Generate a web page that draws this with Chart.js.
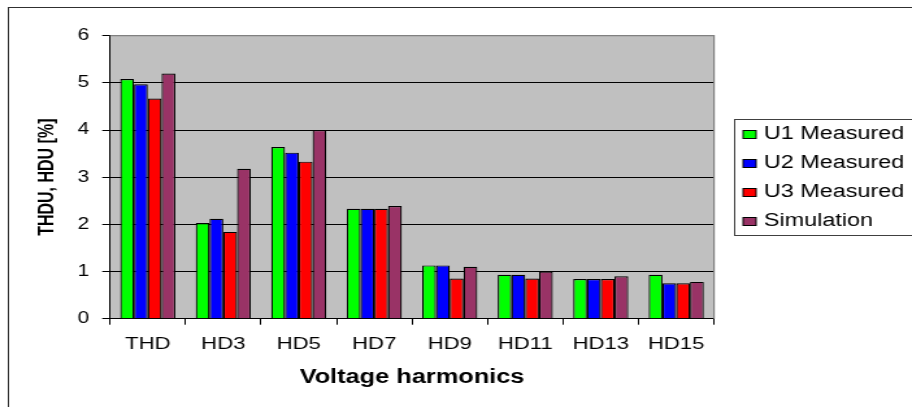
<!DOCTYPE html>
<html>
<head>
<meta charset="utf-8">
<script src="https://cdn.jsdelivr.net/npm/chart.js@4/dist/chart.umd.min.js"></script>
<style>
  html, body { margin: 0; padding: 0; background: #fff; overflow: hidden; }
  /* the chart is laid out narrower and widened horizontally */
  #wrap {
    position: absolute; left: 0; top: 0;
    width: 702px; height: 407px;
    transform: scaleX(1.2991); transform-origin: 0 0;
  }
</style>
</head>
<body>
<div id="wrap"><canvas id="chart"></canvas></div>
<script>
const categories = ['THD', 'HD3', 'HD5', 'HD7', 'HD9', 'HD11', 'HD13', 'HD15'];
const u1Measured = [5.08, 2.03, 3.64, 2.33, 1.13, 0.93, 0.84, 0.93];
const u2Measured = [4.97, 2.12, 3.52, 2.33, 1.13, 0.93, 0.84, 0.75];
const u3Measured = [4.67, 1.84, 3.33, 2.33, 0.85, 0.85, 0.84, 0.75];
const simulation = [5.20, 3.18, 4.00, 2.39, 1.10, 1.00, 0.90, 0.78];
const seriesNames = ['U1 Measured', 'U2 Measured', 'U3 Measured', 'Simulation'];
const seriesColors = ['#00FF00', '#0000FF', '#FF0000', '#993366'];
const yTicks = [0, 1, 2, 3, 4, 5, 6];

const FONT = '"Liberation Sans", Arial, sans-serif';

// grey plot background plus the outer frame of the chart
const plotFrame = {
  id: 'plotFrame',
  beforeDraw(chart) {
    const { ctx, chartArea: a } = chart;
    ctx.save();
    ctx.fillStyle = '#C0C0C0';
    ctx.fillRect(a.left, a.top, a.right - a.left, a.bottom - a.top);
    ctx.strokeStyle = '#303030';
    ctx.lineWidth = 1;
    ctx.strokeRect(6.5, 7.5, 900, 600);
    ctx.restore();
  },
  afterDraw(chart) {
    const { ctx, chartArea: a } = chart;
    ctx.save();
    ctx.strokeStyle = '#808080';
    ctx.lineWidth = 1.2;
    ctx.beginPath();
    ctx.moveTo(a.left, a.top);
    ctx.lineTo(a.right, a.top);
    ctx.lineTo(a.right, a.bottom);
    ctx.stroke();
    ctx.restore();
  }
};

// boxed legend to the right of the plot
const boxLegend = {
  id: 'boxLegend',
  afterDraw(chart) {
    const { ctx } = chart;
    const left = 565, top = 119, bottom = 235;
    const firstBaseline = 138.5, rowStep = 29;
    ctx.save();
    ctx.strokeStyle = '#404040';
    ctx.lineWidth = 1;
    ctx.strokeRect(left + 0.5, top + 0.5, 300, bottom - top);
    ctx.font = '18px ' + FONT;
    ctx.textBaseline = 'alphabetic';
    ctx.textAlign = 'left';
    chart.data.datasets.forEach((ds, i) => {
      const base = firstBaseline + i * rowStep;
      ctx.fillStyle = ds.backgroundColor;
      ctx.fillRect(572, base - 8, 10, 8);
      ctx.strokeStyle = '#000';
      ctx.strokeRect(572, base - 8, 10, 8);
      ctx.fillStyle = '#000';
      ctx.fillText(ds.label, 588, base);
    });
    ctx.restore();
  }
};

const datasets = [u1Measured, u2Measured, u3Measured, simulation].map((vals, i) => ({
  label: seriesNames[i],
  data: vals,
  backgroundColor: seriesColors[i],
  borderColor: '#000',
  borderWidth: 1.2,
  borderSkipped: 'bottom',
  categoryPercentage: 0.73,
  barPercentage: 1.0
}));

new Chart(document.getElementById('chart'), {
  type: 'bar',
  data: { labels: categories, datasets },
  options: {
    responsive: true,
    maintainAspectRatio: false,
    animation: false,
    devicePixelRatio: 1,
    layout: { padding: { left: 0, top: 35.7, right: 152.4, bottom: 0 } },
    plugins: { legend: { display: false }, tooltip: { enabled: false } },
    scales: {
      x: {
        grid: {
          display: true, drawOnChartArea: false, drawTicks: true,
          tickLength: 6, color: '#000', offset: true
        },
        border: { display: true, color: '#000', width: 1 },
        ticks: { color: '#000', font: { family: FONT, size: 17 }, padding: 9, maxRotation: 0 },
        title: {
          display: true, text: 'Voltage harmonics', color: '#000',
          font: { family: FONT, size: 19.5, weight: 'bold' },
          padding: { top: 0, bottom: 17.3 }
        },
        afterFit(scale) { scale.height = 88.3; }
      },
      y: {
        min: 0, max: 6,
        afterBuildTicks(scale) { scale.ticks = yTicks.map(v => ({ value: v })); },
        grid: {
          drawTicks: true, tickLength: 6, tickColor: '#000',
          color: ctx => (ctx.tick && ctx.tick.value === 6 ? '#808080' : '#000'),
          lineWidth: 1
        },
        border: { display: true, color: '#000', width: 1 },
        ticks: { color: '#000', font: { family: FONT, size: 16 }, padding: 10 },
        title: {
          display: true, text: 'THDU, HDU [%]', color: '#000',
          font: { family: FONT, size: 16, weight: 'bold' },
          padding: { top: 27.3, bottom: 0 }
        },
        afterFit(scale) { scale.width = 84.7; }
      }
    }
  },
  plugins: [plotFrame, boxLegend]
});
</script>
</body>
</html>
